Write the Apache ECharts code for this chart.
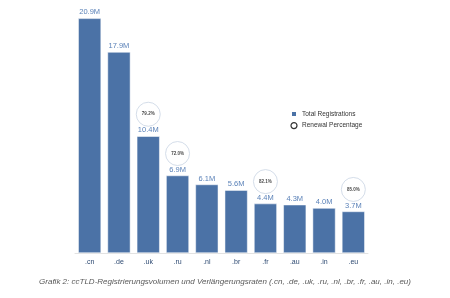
<!DOCTYPE html>
<html>
<head>
<meta charset="utf-8">
<script src="https://cdn.jsdelivr.net/npm/echarts@6/dist/echarts.min.js"></script>
<style>
  html, body { margin: 0; padding: 0; background: #fff; }
  #chart { width: 450px; height: 298px; }
</style>
</head>
<body>
<div id="chart"></div>
<script>
  // ccTLD data
  const categories = ['.cn', '.de', '.uk', '.ru', '.nl', '.br', '.fr', '.au', '.in', '.eu'];
  const registrations = [20.9, 17.9, 10.4, 6.9, 6.1, 5.6, 4.4, 4.3, 4.0, 3.7];
  // renewal only shown for some bars
  const renewal = [null, null, 79.2, 72.0, null, null, 82.1, null, null, 85.0];
  const caption = 'Grafik 2: ccTLD-Registrierungsvolumen und Verlängerungsraten (.cn, .de, .uk, .ru, .nl, .br, .fr, .au, .in, .eu)';

  const barColor = '#4b72a6';

  const chart = echarts.init(document.getElementById('chart'));

  const renewalPoints = categories.map((c, i) =>
    renewal[i] == null ? null : { value: [c, registrations[i]], pct: renewal[i] }
  ).filter(d => d);

  chart.setOption({
    animation: false,
    grid: { left: 75, right: 82, top: 6, bottom: 45 },
    legend: {
      orient: 'vertical',
      left: 285,
      top: 105,
      itemWidth: 6,
      itemHeight: 6,
      itemGap: 4,
      textStyle: { fontSize: 6.5, color: '#333', fontFamily: 'Liberation Sans' },
      data: [
        { name: 'Total Registrations', icon: 'rect' },
        { name: 'Renewal Percentage', icon: 'circle',
          itemStyle: { color: '#fff', borderColor: '#000', borderWidth: 1.2 } }
      ]
    },
    xAxis: {
      type: 'category',
      data: categories,
      axisLine: { show: true, lineStyle: { color: '#e2e2e2' } },
      axisTick: { show: false },
      axisLabel: { fontSize: 7, color: '#2e4a72', margin: 6, fontFamily: 'Liberation Sans' }
    },
    yAxis: {
      type: 'value',
      min: 0,
      max: 22,
      show: false
    },
    series: [
      {
        name: 'Total Registrations',
        type: 'bar',
        data: registrations,
        barCategoryGap: '22%',
        itemStyle: { color: barColor, borderColor: '#fff', borderWidth: 0.5 },
        label: {
          show: true,
          position: 'top',
          distance: 2,
          fontSize: 7.5,
          color: '#5b82b8',
          fontFamily: 'Liberation Sans',
          formatter: p => p.value.toFixed(1) + 'M'
        }
      },
      {
        name: 'Renewal Percentage',
        type: 'scatter',
        data: renewalPoints,
        symbol: 'circle',
        symbolSize: 24,
        symbolOffset: [0, -22],
        itemStyle: { color: '#fff', borderColor: '#c9d5e3', borderWidth: 1 },
        label: {
          show: true,
          position: 'inside',
          fontSize: 4.5,
          fontWeight: 'bold',
          color: '#111',
          fontFamily: 'Liberation Sans',
          formatter: p => p.data.pct.toFixed(1) + '%'
        },
        z: 3
      }
    ],
    graphic: [
      {
        type: 'text',
        left: 'center',
        top: 278,
        style: {
          text: caption,
          fontSize: 8,
          fontStyle: 'italic',
          fill: '#595959',
          fontFamily: 'Liberation Sans'
        }
      }
    ]
  });
</script>
</body>
</html>
